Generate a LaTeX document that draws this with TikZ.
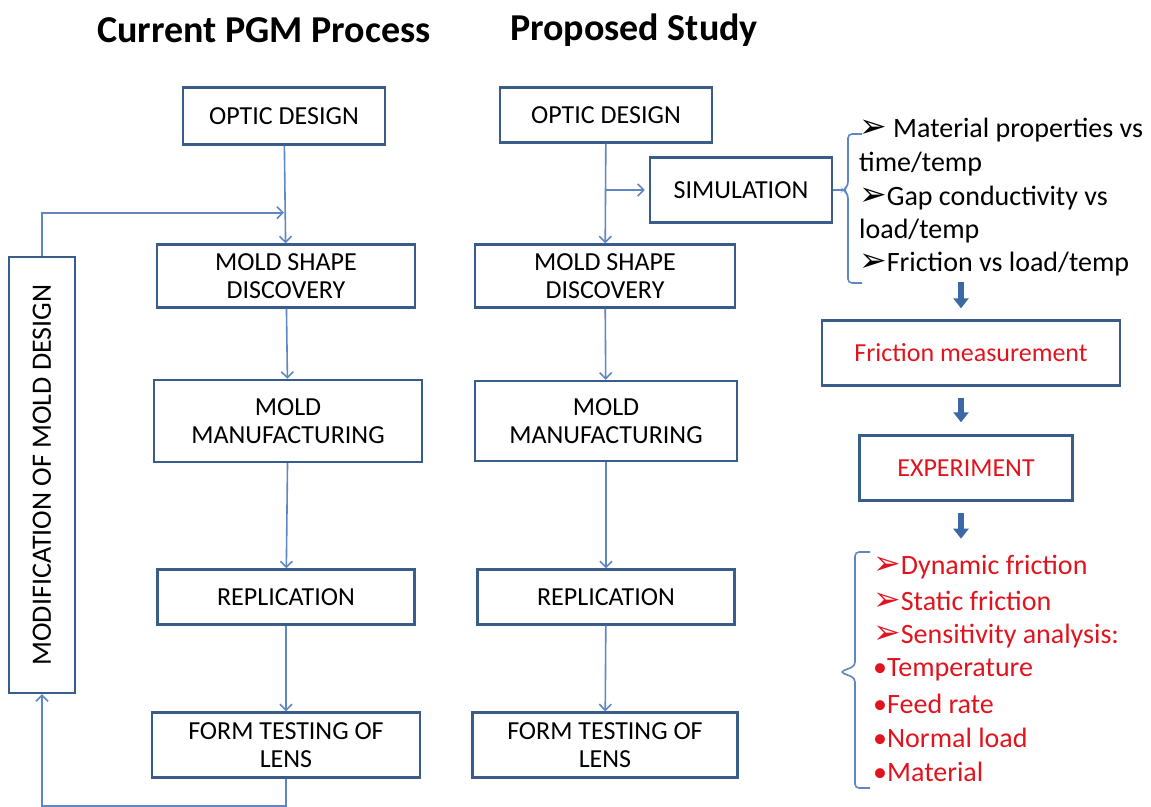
\documentclass[tikz,border=0pt]{standalone}
\usepackage{fontspec}
\setmainfont{Carlito}
\newfontfamily\symfont{DejaVu Sans}
\usetikzlibrary{calc}
\usetikzlibrary{positioning}
\usetikzlibrary{arrows.meta}
\definecolor{boxblue}{RGB}{56,93,138}
\definecolor{lineblue}{RGB}{95,135,195}
\definecolor{listred}{RGB}{225,20,30}
\definecolor{fatblue}{RGB}{60,105,165}
\tikzstyle{procnode} = [draw=boxblue, line width=2.4pt, rectangle, align=center, inner sep=0pt, font=\fontsize{26}{28}\selectfont]
\tikzstyle{rednode} = [procnode, text=listred]
\tikzstyle{titlenode} = [font=\bfseries\fontsize{38}{44}\selectfont]
\tikzstyle{listnode} = [anchor=west, inner sep=0pt, font=\fontsize{28}{32}\selectfont]
\tikzstyle{flowline} = [draw=lineblue, line width=1.6pt]
\tikzstyle{flowarrow} = [flowline, -{Straight Barb[length=6pt,width=12pt]}]
\tikzstyle{fatarrow} = [draw=fatblue, line width=6pt, -{Triangle[length=10pt,width=15pt]}]
\newcommand{\pointer}{{\symfont\fontsize{33}{33}\selectfont\char"27A2}}

\begin{document}
\begin{tikzpicture}[x=1pt, y=-1pt]
\useasboundingbox (0,0) rectangle (1151,806);

% titles
\node[titlenode] (curtitle) at (264,30) {Current PGM Process};
\node[titlenode] (proptitle) at (634,30) {Proposed Study};

% current process
\node[procnode, minimum width=202pt, minimum height=57pt] (optic) at (284,116) {OPTIC DESIGN};
\node[procnode, minimum width=258pt, minimum height=63pt] (shape) at (286,276) {MOLD SHAPE\\DISCOVERY};
\node[procnode, minimum width=268pt, minimum height=82pt] (manuf) at (288,421) {MOLD\\MANUFACTURING};
\node[procnode, minimum width=257pt, minimum height=55pt] (repl) at (286,597) {REPLICATION};
\node[procnode, minimum width=268pt, minimum height=65pt] (form) at (286,745) {FORM TESTING OF\\LENS};
\node[procnode, rotate=90, minimum width=436pt, minimum height=66pt, font=\fontsize{28}{30}\selectfont] (modif) at (42,475) {MODIFICATION OF MOLD DESIGN};

\coordinate (join) at ($(optic.south)+(0,67)$);
\draw[flowarrow] (optic) -- (shape);
\draw[flowarrow] (shape) -- (manuf);
\draw[flowarrow] (manuf) -- (repl);
\draw[flowarrow] (repl) -- (form);
\draw[flowarrow] (form.south) -- ++(0,27) -| (modif.west);
\draw[flowarrow] (modif.east) |- (join);

% proposed study
\node[procnode, minimum width=212pt, minimum height=55pt] (optic2) at (606,115) {OPTIC DESIGN};
\node[procnode, minimum width=182pt, minimum height=65pt] (sim) at (741,190) {SIMULATION};
\node[procnode, minimum width=260pt, minimum height=63pt] (shape2) at (605,276) {MOLD SHAPE\\DISCOVERY};
\node[procnode, minimum width=262pt, minimum height=80pt] (manuf2) at (606,421) {MOLD\\MANUFACTURING};
\node[procnode, minimum width=257pt, minimum height=55pt] (repl2) at (606,597) {REPLICATION};
\node[procnode, minimum width=265pt, minimum height=65pt] (form2) at (605,745) {FORM TESTING OF\\LENS};

\draw[flowarrow] (optic2) -- (shape2);
\draw[flowarrow] (shape2) -- (manuf2);
\draw[flowarrow] (manuf2) -- (repl2);
\draw[flowarrow] (repl2) -- (form2);
\draw[flowarrow] (optic2.south |- sim.west) -- ($(sim.west)+(-4,0)$);

% simulation inputs
\coordinate (simtip) at (843,190);
\draw[flowline] (sim.east) -- (simtip);
\draw[flowline, rounded corners=4pt] (862,134) -- (848,134) -- (848,186) -- (simtip) -- (848,194) -- (848,283) -- (862,283);
\node[listnode] (mat) at (859,130) {\pointer\ Material properties vs};
\node[listnode] (mattime) at (859,164) {time/temp};
\node[listnode] (gap) at (859,198) {\pointer Gap conductivity vs};
\node[listnode] (gapload) at (859,231) {load/temp};
\node[listnode] (fric) at (859,264) {\pointer Friction vs load/temp};

% measurement and experiment
\node[rednode, minimum width=298pt, minimum height=65pt] (fricmeas) at (971,353) {Friction measurement};
\node[rednode, minimum width=213pt, minimum height=65pt] (exper) at (966,468) {EXPERIMENT};
\draw[fatarrow] ($(fricmeas.north)+(-10,-37)$) -- ($(fricmeas.north)+(-10,-11)$);
\draw[fatarrow] ($(fricmeas.south)+(-10,11)$) -- ($(exper.north)+(-5,-12)$);
\draw[fatarrow] ($(exper.south)+(-5,11)$) -- ($(exper.south)+(-5,37)$);

% results
\coordinate (restip) at (840,672);
\draw[flowline, rounded corners=4pt] (870,552) -- (855,552) -- (855,666) -- (restip) -- (855,678) -- (855,788) -- (870,788);
\begin{scope}[text=listred]
\node[listnode] (dyn) at (873,567) {\pointer Dynamic friction};
\node[listnode] (stat) at (873,601) {\pointer Static friction};
\node[listnode] (sens) at (873,636) {\pointer Sensitivity analysis:};
\node[listnode] (temp) at (873,670) {•Temperature};
\node[listnode] (feed) at (873,704) {•Feed rate};
\node[listnode] (load) at (873,738) {•Normal load};
\node[listnode] (matl) at (873,772) {•Material};
\end{scope}
\end{tikzpicture}
\end{document}
